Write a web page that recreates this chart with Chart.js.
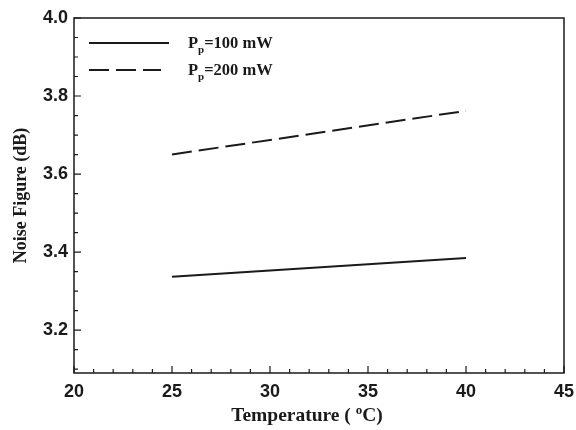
<!DOCTYPE html>
<html>
<head>
<meta charset="utf-8">
<script src="https://cdn.jsdelivr.net/npm/chart.js@4"></script>
<style>
  html, body { margin: 0; padding: 0; background: #fff; }
  #wrap { width: 576px; height: 430px; }
</style>
</head>
<body>
<div id="wrap"><canvas id="nfChart" width="576" height="430"></canvas></div>
<script>
// Noise figure vs temperature
const temps = [25, 40];
const nf100 = [3.337, 3.385];
const nf200 = [3.650, 3.762];
const xTicks = [20, 25, 30, 35, 40, 45];
const yTicks = [3.2, 3.4, 3.6, 3.8, 4.0];
const seriesNames = ['100 mW', '200 mW'];

const serifBold = '"Liberation Serif", "Times New Roman", serif';

function toPoints(xs, ys) {
    return xs.map((x, i) => ({ x: x, y: ys[i] }));
}

// frame, inward ticks, axis titles and legend
const decorations = {
    id: 'decorations',
    afterDraw(chart) {
        const ctx = chart.ctx;
        const a = chart.chartArea;
        const xs = chart.scales.x;
        const ys = chart.scales.y;
        ctx.save();
        ctx.strokeStyle = '#1a1a1a';
        ctx.lineWidth = 1.5;
        ctx.strokeRect(a.left, a.top, a.right - a.left, a.bottom - a.top);

        ctx.lineWidth = 1.2;
        ctx.beginPath();
        for (let v = 20; v <= 45; v++) {
            const px = xs.getPixelForValue(v);
            const len = v % 5 === 0 ? 7 : 4;
            ctx.moveTo(px, a.bottom);
            ctx.lineTo(px, a.bottom - len);
        }
        for (let k = 62; k <= 80; k++) {
            const v = k * 0.05;
            if (v < ys.min - 1e-9) continue;
            const py = ys.getPixelForValue(v);
            const len = k % 4 === 0 ? 7 : 4;
            ctx.moveTo(a.left, py);
            ctx.lineTo(a.left + len, py);
        }
        ctx.stroke();

        // x title with superscript o
        ctx.fillStyle = '#1a1a1a';
        ctx.textBaseline = 'alphabetic';
        const cx = (a.left + a.right) / 2 - 12;
        const main = 19.5;
        const parts = [['Temperature ( ', main, 0], ['o', 13, -7], ['C)', main, 0]];
        let total = 0;
        parts.forEach(p => { ctx.font = 'bold ' + p[1] + 'px ' + serifBold; total += ctx.measureText(p[0]).width; });
        let x = cx - total / 2;
        const baseY = 421;
        parts.forEach(p => {
            ctx.font = 'bold ' + p[1] + 'px ' + serifBold;
            ctx.textAlign = 'left';
            ctx.fillText(p[0], x, baseY + p[2]);
            x += ctx.measureText(p[0]).width;
        });

        // y title
        ctx.save();
        ctx.translate(26, (a.top + a.bottom) / 2);
        ctx.rotate(-Math.PI / 2);
        ctx.font = 'bold 18px ' + serifBold;
        ctx.textAlign = 'center';
        ctx.fillText('Noise Figure (dB)', 0, 0);
        ctx.restore();

        // legend
        chart.data.datasets.forEach((ds, i) => {
            const ly = a.top + 25 + i * 27;
            ctx.beginPath();
            ctx.lineWidth = 2;
            ctx.setLineDash(ds.borderDash || []);
            ctx.moveTo(a.left + 15, ly);
            ctx.lineTo(a.left + (ds.borderDash ? 87 : 95), ly);
            ctx.stroke();
            ctx.setLineDash([]);
            let tx = a.left + 114;
            ctx.textAlign = 'left';
            ctx.font = 'bold 16.5px ' + serifBold;
            ctx.fillText('P', tx, ly + 5);
            tx += ctx.measureText('P').width;
            ctx.font = 'bold 11px ' + serifBold;
            ctx.fillText('p', tx, ly + 10);
            tx += ctx.measureText('p').width;
            ctx.font = 'bold 16.5px ' + serifBold;
            ctx.fillText('=' + seriesNames[i], tx, ly + 5);
        });
        ctx.restore();
    }
};

const ctx = document.getElementById('nfChart').getContext('2d');
const chart = new Chart(ctx, {
    type: 'line',
    data: {
        datasets: [{
            label: 'Pp=100 mW',
            data: toPoints(temps, nf100),
            borderColor: '#1a1a1a',
            borderWidth: 2,
            pointRadius: 0,
            fill: false
        }, {
            label: 'Pp=200 mW',
            data: toPoints(temps, nf200),
            borderColor: '#1a1a1a',
            borderWidth: 2,
            borderDash: [20, 7],
            pointRadius: 0,
            fill: false
        }]
    },
    options: {
        responsive: false,
        animation: false,
        layout: { padding: { top: 18, right: 12, left: 0, bottom: 0 } },
        plugins: {
            legend: { display: false },
            tooltip: { enabled: false }
        },
        scales: {
            x: {
                type: 'linear',
                min: 20,
                max: 45,
                afterFit: s => { s.height = 57; s.paddingLeft = 0; s.paddingRight = 0; },
                afterBuildTicks: s => { s.ticks = xTicks.map(v => ({ value: v })); },
                grid: { display: false, drawTicks: false },
                border: { display: false },
                ticks: {
                    color: '#1a1a1a',
                    font: { family: '"Liberation Sans", Arial, sans-serif', size: 18, weight: 'bold' },
                    padding: 8,
                    maxRotation: 0
                }
            },
            y: {
                type: 'linear',
                min: 3.09,
                max: 4.0,
                afterFit: s => { s.width = 74; s.paddingTop = 0; s.paddingBottom = 0; },
                afterBuildTicks: s => { s.ticks = yTicks.map(v => ({ value: v })); },
                grid: { display: false, drawTicks: false },
                border: { display: false },
                ticks: {
                    color: '#1a1a1a',
                    font: { family: '"Liberation Sans", Arial, sans-serif', size: 18, weight: 'bold' },
                    padding: 6,
                    callback: v => v.toFixed(1)
                }
            }
        }
    },
    plugins: [decorations]
});
</script>
</body>
</html>
